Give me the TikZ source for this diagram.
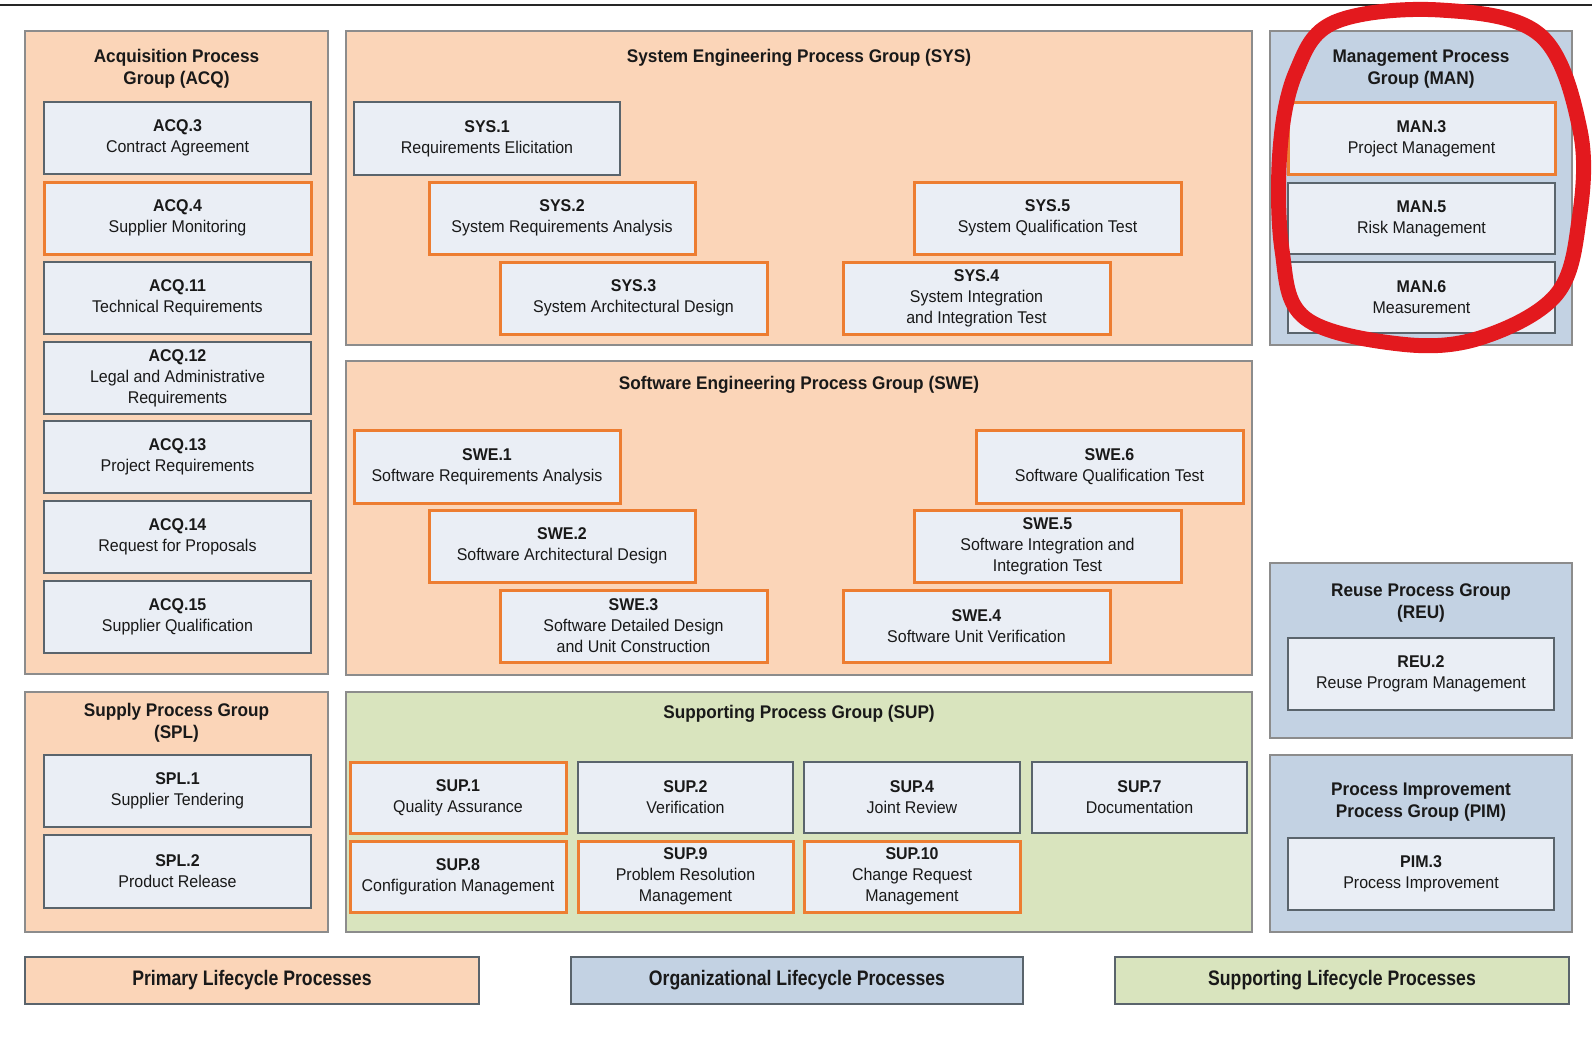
\documentclass[tikz,border=0pt]{standalone}
\usepackage{fontspec}
\setmainfont{Liberation Sans}[FakeStretch=0.94]
\newfontfamily\legendfont{Liberation Sans}[FakeStretch=0.84]
\definecolor{peach}{HTML}{FBD5B8}
\definecolor{bluegray}{HTML}{C3D2E3}
\definecolor{sage}{HTML}{D9E4BE}
\definecolor{boxfill}{HTML}{EAEEF5}
\definecolor{orng}{HTML}{ED7D31}
\definecolor{boxline}{HTML}{5A646C}
\definecolor{grpline}{HTML}{8C8C8C}
\definecolor{redmark}{HTML}{E3191E}
\newcommand{\procbox}[7]{%
  \pgfmathsetmacro{\pbcx}{(#3+#5)/2}\pgfmathsetmacro{\pbcy}{(#4+#6)/2}%
  \pgfmathsetmacro{\pbw}{#5-#3}\pgfmathsetmacro{\pbh}{#6-#4}%
  \node[#2, minimum width=\pbw pt, minimum height=\pbh pt] (#1) at (\pbcx,\pbcy) {#7};}
\begin{document}
\begin{tikzpicture}[x=1pt,y=-1pt,
  grp/.style={draw=grpline, line width=1.3pt, inner sep=0pt, outer sep=0pt},
  pbox/.style={draw=boxline, fill=boxfill, line width=1.4pt, inner sep=0pt, outer sep=0pt,
     align=center, font=\fontsize{17}{21}\selectfont, text=black!90},
  obox/.style={pbox, draw=orng, line width=3pt},
  gtitle/.style={font=\bfseries\fontsize{18.3}{22}\selectfont, align=center, inner sep=0pt, text=black!90},
  legend/.style={draw=boxline, line width=1.4pt, inner sep=0pt, outer sep=0pt,
     font=\legendfont\bfseries\fontsize{21}{24}\selectfont, text=black!90}]
\useasboundingbox (0,0) rectangle (1592,1038);
\fill[white] (0,0) rectangle (1592,1038);
\draw[line width=2.5pt, black!85] (0,5) -- (1592,5);

% groups
\procbox{acq}{grp, fill=peach}{25}{31}{328}{674}{}
\procbox{spl}{grp, fill=peach}{25}{692}{328}{932}{}
\procbox{sys}{grp, fill=peach}{346}{31}{1252}{345}{}
\procbox{swe}{grp, fill=peach}{346}{361}{1252}{675}{}
\procbox{sup}{grp, fill=sage}{346}{692}{1252}{932}{}
\procbox{man}{grp, fill=bluegray}{1270}{31}{1572}{345}{}
\procbox{reu}{grp, fill=bluegray}{1270}{563}{1572}{738}{}
\procbox{pim}{grp, fill=bluegray}{1270}{755}{1572}{932}{}

% titles
\node[gtitle] (acqt) at (176.5,69) {Acquisition Process\\Group (ACQ)};
\node[gtitle] (splt) at (176.5,723) {Supply Process Group\\(SPL)};
\node[gtitle] (syst) at (799,58) {System Engineering Process Group (SYS)};
\node[gtitle] (swet) at (799,385) {Software Engineering Process Group (SWE)};
\node[gtitle] (supt) at (799,714) {Supporting Process Group (SUP)};
\node[gtitle] (mant) at (1421,69) {Management Process\\Group (MAN)};
\node[gtitle] (reut) at (1421,603.5) {Reuse Process Group\\(REU)};
\node[gtitle] (pimt) at (1421,802.5) {Process Improvement\\Process Group (PIM)};

% ACQ
\procbox{acq3}{pbox}{44}{102}{311}{174}{\textbf{ACQ.3}\\Contract Agreement}
\procbox{acq4}{obox}{44}{182}{311}{254}{\textbf{ACQ.4}\\Supplier Monitoring}
\procbox{acq11}{pbox}{44}{262}{311}{334}{\textbf{ACQ.11}\\Technical Requirements}
\procbox{acq12}{pbox}{44}{342}{311}{414}{\textbf{ACQ.12}\\Legal and Administrative\\Requirements}
\procbox{acq13}{pbox}{44}{421}{311}{493}{\textbf{ACQ.13}\\Project Requirements}
\procbox{acq14}{pbox}{44}{501}{311}{573}{\textbf{ACQ.14}\\Request for Proposals}
\procbox{acq15}{pbox}{44}{581}{311}{653}{\textbf{ACQ.15}\\Supplier Qualification}

% SPL
\procbox{spl1}{pbox}{44}{755}{311}{827}{\textbf{SPL.1}\\Supplier Tendering}
\procbox{spl2}{pbox}{44}{835}{311}{908}{\textbf{SPL.2}\\Product Release}

% SYS
\procbox{sys1}{pbox}{354}{102}{620}{175}{\textbf{SYS.1}\\Requirements Elicitation}
\procbox{sys2}{obox}{429}{182}{695}{254}{\textbf{SYS.2}\\System Requirements Analysis}
\procbox{sys3}{obox}{500}{262}{767}{334}{\textbf{SYS.3}\\System Architectural Design}
\procbox{sys4}{obox}{843}{262}{1110}{334}{\textbf{SYS.4}\\System Integration\\and Integration Test}
\procbox{sys5}{obox}{914}{182}{1181}{254}{\textbf{SYS.5}\\System Qualification Test}

% SWE
\procbox{swe1}{obox}{354}{430}{620}{503}{\textbf{SWE.1}\\Software Requirements Analysis}
\procbox{swe2}{obox}{429}{510}{695}{582}{\textbf{SWE.2}\\Software Architectural Design}
\procbox{swe3}{obox}{500}{590}{767}{662}{\textbf{SWE.3}\\Software Detailed Design\\and Unit Construction}
\procbox{swe4}{obox}{843}{590}{1110}{662}{\textbf{SWE.4}\\Software Unit Verification}
\procbox{swe5}{obox}{914}{510}{1181}{582}{\textbf{SWE.5}\\Software Integration and\\Integration Test}
\procbox{swe6}{obox}{976}{430}{1243}{503}{\textbf{SWE.6}\\Software Qualification Test}

% SUP
\procbox{sup1}{obox}{350}{762}{566}{833}{\textbf{SUP.1}\\Quality Assurance}
\procbox{sup2}{pbox}{578}{762}{793}{833}{\textbf{SUP.2}\\Verification}
\procbox{sup4}{pbox}{804}{762}{1020}{833}{\textbf{SUP.4}\\Joint Review}
\procbox{sup7}{pbox}{1032}{762}{1247}{833}{\textbf{SUP.7}\\Documentation}
\procbox{sup8}{obox}{350}{841}{566}{912}{\textbf{SUP.8}\\Configuration Management}
\procbox{sup9}{obox}{578}{841}{793}{912}{\textbf{SUP.9}\\Problem Resolution\\Management}
\procbox{sup10}{obox}{804}{841}{1020}{912}{\textbf{SUP.10}\\Change Request\\Management}

% MAN
\procbox{man3}{obox}{1288}{103}{1555}{174}{\textbf{MAN.3}\\Project Management}
\procbox{man5}{pbox}{1288}{183}{1555}{254}{\textbf{MAN.5}\\Risk Management}
\procbox{man6}{pbox}{1288}{262}{1555}{333}{\textbf{MAN.6}\\Measurement}

% REU, PIM
\procbox{reu2}{pbox}{1288}{638}{1554}{710}{\textbf{REU.2}\\Reuse Program Management}
\procbox{pim3}{pbox}{1288}{838}{1554}{910}{\textbf{PIM.3}\\Process Improvement}

% legend
\procbox{lprim}{legend, fill=peach}{25}{957}{479}{1004}{Primary Lifecycle Processes}
\procbox{lorg}{legend, fill=bluegray}{571}{957}{1023}{1004}{Organizational Lifecycle Processes}
\procbox{lsup}{legend, fill=sage}{1115}{957}{1569}{1004}{Supporting Lifecycle Processes}

% red hand-drawn mark
\draw[redmark, line width=15pt, line join=round] plot[smooth cycle, tension=0.6] coordinates {
 (1335,22) (1440,10) (1540,35) (1580,130) (1579,220) (1556,295) (1480,338)
 (1400,344) (1305,318) (1282,250) (1280,150) (1296,72)};
\end{tikzpicture}
\end{document}
